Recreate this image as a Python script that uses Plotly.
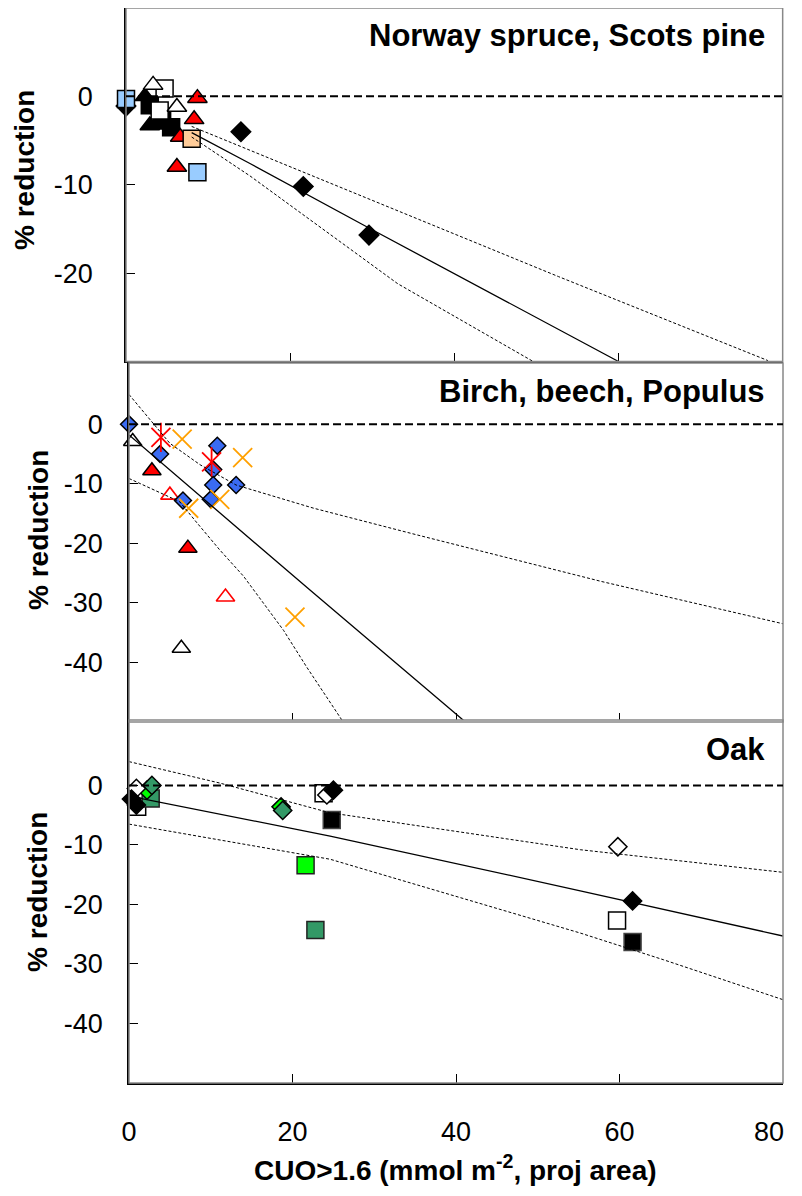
import plotly.graph_objects as go

FONT = "Liberation Sans, Arial, sans-serif"

# ---------------- Top panel: Norway spruce, Scots pine ----------------
top_blk_dia_x = [0, 14.0, 21.6, 29.6]
top_blk_dia_y = [-1.1, -4.0, -10.2, -15.7]
top_blk_tri_x = [2.3, 2.9, 4.4]
top_blk_tri_y = [0.0, -3.3, -3.2]
top_blk_sq_x = [2.9, 5.5, 4.4]
top_blk_sq_y = [-1.0, -3.5, -2.3]
top_wht_tri_x = [3.3, 6.2]
top_wht_tri_y = [1.3, -1.2]
top_wht_sq_x = [4.7, 4.1]
top_wht_sq_y = [0.9, -1.6]
top_red_tri_x = [8.7, 8.3, 6.6, 6.2]
top_red_tri_y = [-0.2, -2.6, -4.6, -8.0]
top_lb_sq_x = [0, 8.7]
top_lb_sq_y = [-0.3, -8.6]
top_peach_sq_x = [8.0]
top_peach_sq_y = [-4.8]

top_fit_x = [8, 15.1, 29.6, 60]
top_fit_y = [-4.1, -7.6, -14.9, -30.0]
top_up_x = [8, 15.1, 35.6, 52.7, 78.2]
top_up_y = [-3.4, -6.1, -13.9, -20.4, -29.9]
top_lo_x = [8, 15.1, 33.1, 49.6]
top_lo_y = [-4.6, -9.0, -21.2, -30.0]

# ---------------- Middle panel: Birch, beech, Populus ----------------
mid_blue_dia_x = [0, 3.8, 10.8, 10.3, 10.3, 13.1, 10.0, 6.6]
mid_blue_dia_y = [0.0, -5.0, -3.6, -7.6, -10.2, -10.2, -12.6, -12.8]
mid_wht_tri_x = [0.45, 6.4]
mid_wht_tri_y = [-2.9, -37.6]
mid_red_ast_x = [3.9, 10.1]
mid_red_ast_y = [-2.2, -6.3]
mid_orng_x_x = [6.5, 13.9, 11.1, 7.3, 20.3]
mid_orng_x_y = [-2.5, -5.6, -12.6, -14.1, -32.4]
mid_red_tri_x = [2.8, 7.2]
mid_red_tri_y = [-7.8, -20.8]
mid_red_otri_x = [5.0, 11.8]
mid_red_otri_y = [-11.9, -29.0]

mid_fit_x = [0, 6.3, 13.7, 22.1, 40.9]
mid_fit_y = [-1.8, -9.2, -17.8, -27.8, -49.7]
mid_up_x = [0, 5.0, 8.7, 13.1, 22.6, 35.3, 57.8, 80]
mid_up_y = [5.0, -3.2, -6.8, -10.2, -14.1, -18.6, -26.4, -33.5]
mid_lo_x = [0, 6.2, 8.1, 11.1, 14.0, 18.9, 21.7, 26.2]
mid_lo_y = [-9.1, -13.0, -16.2, -21.1, -25.5, -34.6, -40.7, -50.0]

# ---------------- Bottom panel: Oak ----------------
bot_blk_dia_x = [0.3, 0.9, 25.0, 61.6]
bot_blk_dia_y = [-2.3, -3.3, -0.8, -19.4]
bot_wht_dia_x = [0.9, 24.2, 59.8]
bot_wht_dia_y = [-0.5, -1.6, -10.3]
bot_wht_sq_x = [1.0, 23.8, 59.7]
bot_wht_sq_y = [-3.6, -1.3, -22.7]
bot_blk_sq_x = [24.8, 61.6]
bot_blk_sq_y = [-5.8, -26.3]
bot_bg_dia_x = [2.2, 18.6]
bot_bg_dia_y = [-0.8, -3.6]
bot_sg_dia_x = [2.8, 18.8]
bot_sg_dia_y = [0.0, -4.2]
bot_sg_sq_x = [2.65, 22.8]
bot_sg_sq_y = [-2.2, -24.3]
bot_bg_sq_x = [21.6]
bot_bg_sq_y = [-13.4]

bot_fit_x = [0, 24.6, 55.2, 80]
bot_fit_y = [-1.8, -8.5, -17.7, -25.3]
bot_up_x = [0, 11.1, 24.6, 55.2, 80]
bot_up_y = [4.0, 0.4, -4.6, -10.8, -14.6]
bot_lo_x = [0, 24.6, 55.2, 65.4, 80]
bot_lo_y = [-6.5, -12.4, -24.8, -29.3, -36.0]

title_top = "Norway spruce, Scots pine"
title_mid = "Birch, beech, Populus"
title_bot = "Oak"
y_title = "% reduction"
x_title = "CUO>1.6 (mmol m<sup>-2</sup>, proj area)"
x_ticks = [0, 20, 40, 60, 80]
x_ticktext = ["0", "20", "40", "60", ""]
x_last_label = "80"
y_ticks_top = [0, -10, -20]
y_ticks_low = [0, -10, -20, -30, -40]

fig = go.Figure()


def mk(x, y, sym, size, fill, line="black", lw=1.5, xa="x", ya="y"):
    fig.add_trace(go.Scatter(
        x=x, y=y, mode="markers", xaxis=xa, yaxis=ya, cliponaxis=False,
        marker=dict(symbol=sym, size=size, color=fill,
                    line=dict(color=line, width=lw)),
        hoverinfo="skip"))


def ln(x, y, dash, width, xa, ya):
    fig.add_trace(go.Scatter(
        x=x, y=y, mode="lines", xaxis=xa, yaxis=ya,
        line=dict(color="black", width=width, dash=dash), hoverinfo="skip"))


# top markers
mk(top_blk_tri_x, top_blk_tri_y, "triangle-up", 17, "black")
mk(top_blk_sq_x, top_blk_sq_y, "square", 17, "black")
mk(top_wht_sq_x, top_wht_sq_y, "square", 17, "white")
mk(top_wht_tri_x, top_wht_tri_y, "triangle-up", 17, "white")
mk(top_blk_dia_x, top_blk_dia_y, "diamond", 15, "black")
mk(top_red_tri_x, top_red_tri_y, "triangle-up", 17, "#FF0000")
mk(top_peach_sq_x, top_peach_sq_y, "square", 17, "#FFCC99")
mk(top_lb_sq_x, top_lb_sq_y, "square", 17, "#99CCFF")
ln(top_up_x, top_up_y, "3px,2px", 1, "x", "y")
ln(top_lo_x, top_lo_y, "3px,2px", 1, "x", "y")
ln(top_fit_x, top_fit_y, "solid", 1.3, "x", "y")

# middle markers
mk(mid_wht_tri_x, mid_wht_tri_y, "triangle-up", 16, "white", xa="x2", ya="y2")
mk(mid_red_tri_x, mid_red_tri_y, "triangle-up", 16, "#FF0000", xa="x2", ya="y2")
mk(mid_red_otri_x, mid_red_otri_y, "triangle-up-open", 16, "#FF0000",
   line="#FF0000", lw=1.6, xa="x2", ya="y2")
mk(mid_blue_dia_x, mid_blue_dia_y, "diamond", 13, "#3A6BF2", xa="x2", ya="y2")
mk(mid_orng_x_x, mid_orng_x_y, "x-thin-open", 19, "#FFA000",
   line="#FFA000", lw=1.8, xa="x2", ya="y2")
mk(mid_red_ast_x, mid_red_ast_y, "x-thin-open", 19, "#FF0000",
   line="#FF0000", lw=1.8, xa="x2", ya="y2")
mk(mid_red_ast_x, mid_red_ast_y, "line-ns-open", 21, "#FF0000",
   line="#FF0000", lw=1.8, xa="x2", ya="y2")
ln(mid_up_x, mid_up_y, "3px,2px", 1, "x2", "y2")
ln(mid_lo_x, mid_lo_y, "3px,2px", 1, "x2", "y2")
ln(mid_fit_x, mid_fit_y, "solid", 1.3, "x2", "y2")

# bottom markers
mk(bot_wht_sq_x, bot_wht_sq_y, "square", 17, "white", xa="x3", ya="y3")
mk(bot_blk_sq_x, bot_blk_sq_y, "square", 17, "black", line="#444", xa="x3", ya="y3")
mk(bot_sg_sq_x, bot_sg_sq_y, "square", 17, "#339966", line="#222", xa="x3", ya="y3")
mk(bot_bg_sq_x, bot_bg_sq_y, "square", 17, "#00FF00", line="#222", xa="x3", ya="y3")
mk(bot_bg_dia_x, bot_bg_dia_y, "diamond", 14, "#00FF00", xa="x3", ya="y3")
mk(bot_sg_dia_x, bot_sg_dia_y, "diamond", 14, "#339966", xa="x3", ya="y3")
mk(bot_wht_dia_x, bot_wht_dia_y, "diamond", 14, "white", xa="x3", ya="y3")
mk(bot_blk_dia_x, bot_blk_dia_y, "diamond", 14, "black", xa="x3", ya="y3")
ln(bot_up_x, bot_up_y, "3px,2px", 1, "x3", "y3")
ln(bot_lo_x, bot_lo_y, "3px,2px", 1, "x3", "y3")
ln(bot_fit_x, bot_fit_y, "solid", 1.3, "x3", "y3")

tickfont = dict(family=FONT, size=27, color="black")
xcommon = dict(range=[0, 80], showgrid=False, zeroline=False, ticks="inside",
               ticklen=9, tickwidth=1.2, tickcolor="black",
               showline=True, linecolor="black", linewidth=1.5,
               tickfont=tickfont)
ycommon = dict(showgrid=False, zeroline=False, ticks="inside", ticklen=9,
               tickwidth=1.2, tickcolor="black", showline=True,
               linecolor="black", linewidth=1.5, tickfont=tickfont)

# page has an 8px body margin: figure is 794x1188, plot area 657x1075
layout = dict(
    width=794, height=1188, paper_bgcolor="white", plot_bgcolor="white",
    margin=dict(l=118, r=19, t=0, b=113, autoexpand=False), showlegend=False,
    xaxis=dict(xcommon, domain=[0, 0.9995], anchor="y", tickvals=[20, 40, 60],
               showticklabels=False),
    yaxis=dict(ycommon, domain=[0.6712, 1.0], anchor="x", range=[-30, 10],
               tickvals=y_ticks_top, ticktext=[str(v) for v in y_ticks_top],
               ticklabelstandoff=26),
    xaxis2=dict(xcommon, domain=[0.0046, 1], anchor="y2", tickvals=[20, 40, 60],
                showticklabels=False),
    yaxis2=dict(ycommon, domain=[0.3358, 0.6698], anchor="x2", range=[-50, 10.3],
                tickvals=y_ticks_low, ticktext=[str(v) for v in y_ticks_low],
                ticklabelstandoff=19),
    xaxis3=dict(xcommon, domain=[0.0046, 1], anchor="y3", tickvals=x_ticks,
                ticktext=x_ticktext, ticklabelstandoff=24),
    yaxis3=dict(ycommon, domain=[0, 0.3377], anchor="x3", range=[-50, 11],
                tickvals=y_ticks_low, ticktext=[str(v) for v in y_ticks_low],
                ticklabelstandoff=19),
)
fig.update_layout(**layout)

shapes = []
for xa, ya in [("x", "y"), ("x2", "y2"), ("x3", "y3")]:
    shapes.append(dict(type="rect", xref=xa + " domain", yref=ya + " domain",
                       x0=0, x1=1, y0=0, y1=1, line=dict(color="#888", width=1.5),
                       layer="above"))
    shapes.append(dict(type="line", xref=xa + " domain", yref=ya, x0=0, x1=1,
                       y0=0, y1=0, line=dict(color="black", width=2, dash="8px,4px"),
                       layer="above"))
fig.update_layout(shapes=shapes)

bold = dict(family=FONT, size=28, color="black", weight="bold")
title_font = dict(bold, size=31)
ann = [
    dict(text=title_top, x=0.9756, y=0.974, xanchor="right", yanchor="middle", font=title_font),
    dict(text=title_mid, x=0.9756, y=0.6428, xanchor="right", yanchor="middle", font=title_font),
    dict(text=title_bot, x=0.9756, y=0.3098, xanchor="right", yanchor="middle", font=title_font),
    dict(text=y_title, x=-0.1553, y=0.8493, textangle=-90, xanchor="center", yanchor="middle"),
    dict(text=y_title, x=-0.134, y=0.5144, textangle=-90, xanchor="center", yanchor="middle"),
    dict(text=y_title, x=-0.134, y=0.1777, textangle=-90, xanchor="center", yanchor="middle"),
    dict(text=x_title, x=0.5008, y=-0.0791, xanchor="center", yanchor="middle"),
]
for a in ann:
    a.setdefault("font", bold)
    a.update(xref="paper", yref="paper", showarrow=False)
# last x tick label, kept inside the page edge
ann.append(dict(text=x_last_label, x=80, xref="x3", xanchor="right", xshift=3,
                y=-0.0456, yref="paper", yanchor="middle", showarrow=False,
                font=tickfont))
fig.update_layout(annotations=ann)

fig.write_html("out.html")
